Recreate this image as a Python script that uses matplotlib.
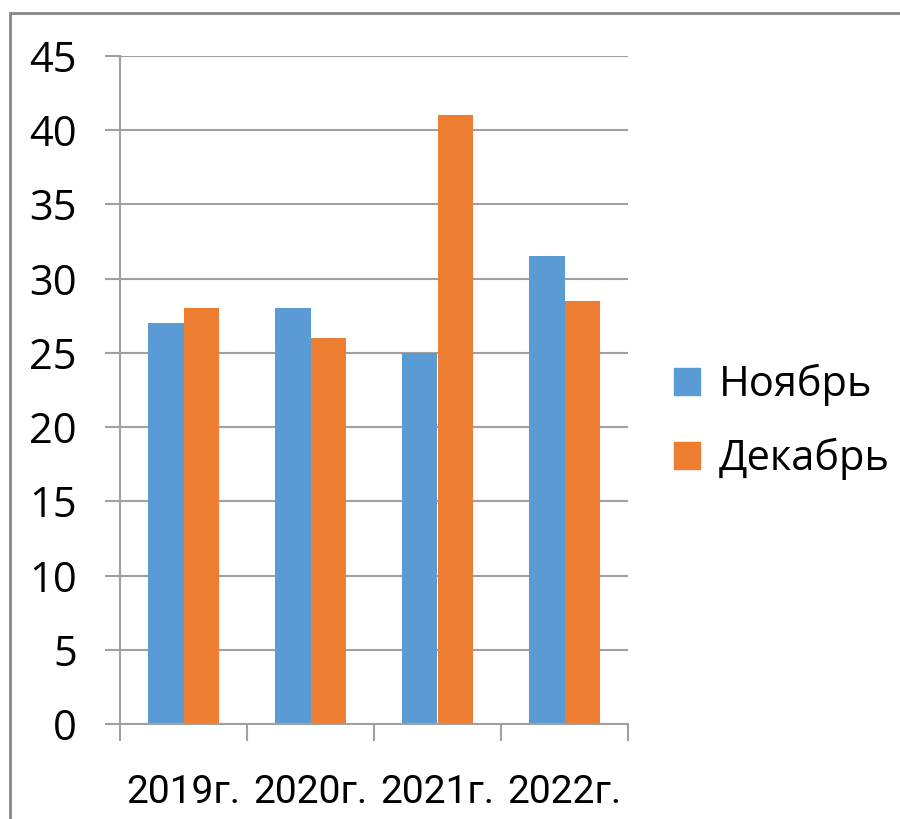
import matplotlib
matplotlib.use("Agg")
import matplotlib.pyplot as plt
from matplotlib.patches import Patch, Rectangle
import numpy as np

# Data
years = ["2019г.", "2020г.", "2021г.", "2022г."]
november = [27, 28, 25, 31.5]
december = [28, 26, 41, 28.5]
series_names = ["Ноябрь", "Декабрь"]

blue = "#5B9BD5"
orange = "#ED7D31"
grid_col = "#A0A0A0"

plt.rcParams['font.family'] = ['Open Sans', 'DejaVu Sans']

fig = plt.figure(figsize=(9, 8.19), dpi=100)
ax = fig.add_axes([120/900, 95/819, 508/900, 668/819])

x = np.arange(len(years))
w = 0.283
ax.bar(x - w/2, november, w, color=blue)
ax.bar(x + w/2, december, w, color=orange)

ax.set_xlim(-0.5, 3.5)
ax.set_ylim(0, 45)
ax.set_yticks(range(0, 46, 5))
ax.yaxis.grid(True, color=grid_col, linewidth=1.5)
ax.set_axisbelow(True)

for s in ["top", "right"]:
    ax.spines[s].set_visible(False)
for s in ["left", "bottom"]:
    ax.spines[s].set_color(grid_col)
    ax.spines[s].set_linewidth(1.5)

ax.tick_params(axis="y", length=11, width=1.5, color=grid_col, pad=20, labelsize=30)
ax.set_xticks(x)
# labels are condensed in the original, Roboto is a bit narrower
ax.set_xticklabels(years, family=['Roboto', 'DejaVu Sans'], fontsize=28)
ax.tick_params(axis="x", which="major", length=0, pad=36)
ax.set_xticks(np.arange(-0.5, 4, 1), minor=True)
ax.tick_params(axis="x", which="minor", length=12, width=1.5, color=grid_col)

handles = [Patch(color=blue), Patch(color=orange)]
fig.legend(handles, series_names, loc="center left", bbox_to_anchor=(674/900, 1 - 422/819),
           frameon=False, fontsize=30, handlelength=0.62, handleheight=0.62,
           handletextpad=0.45, labelspacing=0.75, borderpad=0, borderaxespad=0)

# outer chart border
fig.patches.append(Rectangle((10/900, -0.05), 1.2, 1 - 13/819 + 0.05, transform=fig.transFigure,
                             fill=False, edgecolor="#888888", linewidth=2))

fig.savefig("out.png", dpi=100)
